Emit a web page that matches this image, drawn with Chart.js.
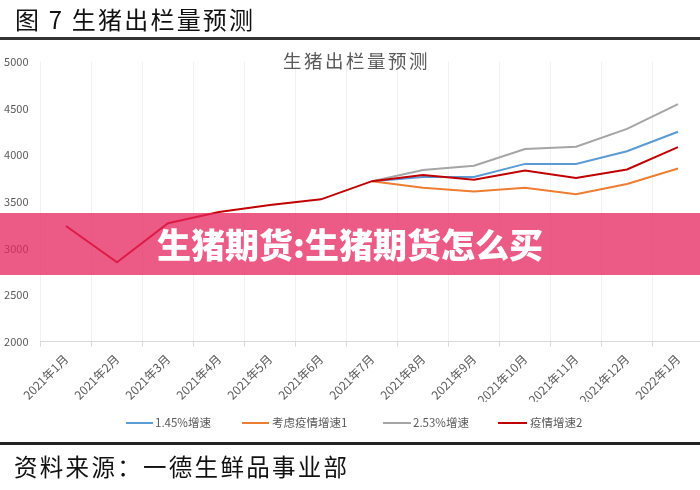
<!DOCTYPE html>
<html>
<head>
<meta charset="utf-8">
<script src="https://cdn.jsdelivr.net/npm/chart.js@4.4.1/dist/chart.umd.min.js"></script>
<style>
  html, body { margin:0; padding:0; width:700px; height:490px; overflow:hidden; background:#fff; }
  body { position:relative; font-family:"Noto Sans CJK SC","Noto Sans",sans-serif; }
  #wrap { position:absolute; left:0; top:0; width:710px; height:490px; }
  .abs { position:absolute; white-space:nowrap; }
  #hdr { left:15px; top:4px; font-size:24px; line-height:30px; letter-spacing:2.2px; color:#111; }
  #rule1 { left:0; top:37px; width:700px; height:3px; background:#333; }
  #rule2 { left:0; top:442px; width:700px; height:3px; background:#222; }
  #src { left:14px; top:451px; font-size:23.5px; line-height:30px; letter-spacing:2.3px; color:#111; }
  #ctitle { left:283px; top:49px; font-size:18.5px; line-height:22px; letter-spacing:2.5px; color:#595959; }
  #banner { left:0; top:213px; width:700px; height:62px; background:rgba(229,36,93,0.75);
            display:flex; align-items:center; justify-content:center; }
  #banner span { color:#fff; font-size:34px; font-weight:900; line-height:40px; }
  .lg { font-size:11.5px; color:#595959; line-height:14px; }
  .lgl { height:2px; }
</style>
</head>
<body>
<div id="wrap"><canvas id="c" width="710" height="490"></canvas></div>
<div class="abs" id="hdr">图 7 生猪出栏量预测</div>
<div class="abs" id="rule1"></div>
<div class="abs" id="ctitle">生猪出栏量预测</div>
<div class="abs lgl" style="left:126px;top:422px;width:27px;background:#5b9bd5"></div>
<div class="abs lg" style="left:155px;top:415px;">1.45%增速</div>
<div class="abs lgl" style="left:242px;top:422px;width:27px;background:#ed7d31"></div>
<div class="abs lg" style="left:272px;top:415px;">考虑疫情增速1</div>
<div class="abs lgl" style="left:383px;top:422px;width:28px;background:#a5a5a5"></div>
<div class="abs lg" style="left:413px;top:415px;">2.53%增速</div>
<div class="abs lgl" style="left:498px;top:422px;width:29px;background:#c00000"></div>
<div class="abs lg" style="left:530px;top:415px;">疫情增速2</div>
<div class="abs" id="rule2"></div>
<div class="abs" id="src">资料来源：一德生鲜品事业部</div>
<div class="abs" id="banner"><span>生猪期货:生猪期货怎么买</span></div>
<script>
const categories = ["2021年1月","2021年2月","2021年3月","2021年4月","2021年5月","2021年6月","2021年7月","2021年8月","2021年9月","2021年10月","2021年11月","2021年12月","2022年1月"];
const growth145 = [null,null,null,null,null,null,3720,3765,3765,3905,3905,4040,4250];
const epidemic1 = [null,null,null,null,null,null,3720,3650,3610,3650,3580,3690,3855];
const growth253 = [null,null,null,null,null,null,3720,3840,3885,4065,4090,4280,4545];
const epidemic2 = [3240,2850,3270,3390,3465,3525,3720,3785,3735,3835,3755,3845,4085];
const yTicks = [2000,2500,3000,3500,4000,4500,5000];

const fam = '"Noto Sans CJK SC","Noto Sans",sans-serif';
function ds(label, data, color, order) {
  return { label, data, borderColor: color, backgroundColor: color, borderWidth: 2,
           pointRadius: 0, tension: 0, fill: false, order, spanGaps: false };
}
new Chart(document.getElementById('c'), {
  type: 'line',
  data: {
    labels: categories,
    datasets: [
      ds('1.45%增速', growth145, '#5b9bd5', 4),
      ds('考虑疫情增速1', epidemic1, '#ed7d31', 3),
      ds('2.53%增速', growth253, '#a5a5a5', 2),
      ds('疫情增速2', epidemic2, '#c00000', 1)
    ]
  },
  options: {
    responsive: false, animation: false,
    layout: { padding: { top: 61.7, bottom: 88.3, left: 0, right: 6.5 } },
    plugins: { legend: { display: false }, title: { display: false }, tooltip: { enabled: false } },
    scales: {
      x: {
        offset: true,
        grid: { display: true, offset: true, color: '#f1f1f1', tickColor: '#d9d9d9', tickLength: 5, drawTicks: true },
        border: { display: true, color: '#d9d9d9', width: 1 },
        ticks: { font: { family: fam, size: 12 }, color: '#595959', minRotation: 45, maxRotation: 45, autoSkip: false, padding: 5 },
        afterFit: s => { s.height = 60; }
      },
      y: {
        min: 2000, max: 5000,
        afterBuildTicks: s => { s.ticks = yTicks.map(v => ({ value: v })); },
        grid: { display: false, drawTicks: false },
        border: { display: false },
        ticks: { font: { family: fam, size: 11 }, color: '#595959', padding: 12, callback: v => String(v) },
        afterFit: s => { s.width = 40.5; }
      }
    }
  }
});
</script>
</body>
</html>
